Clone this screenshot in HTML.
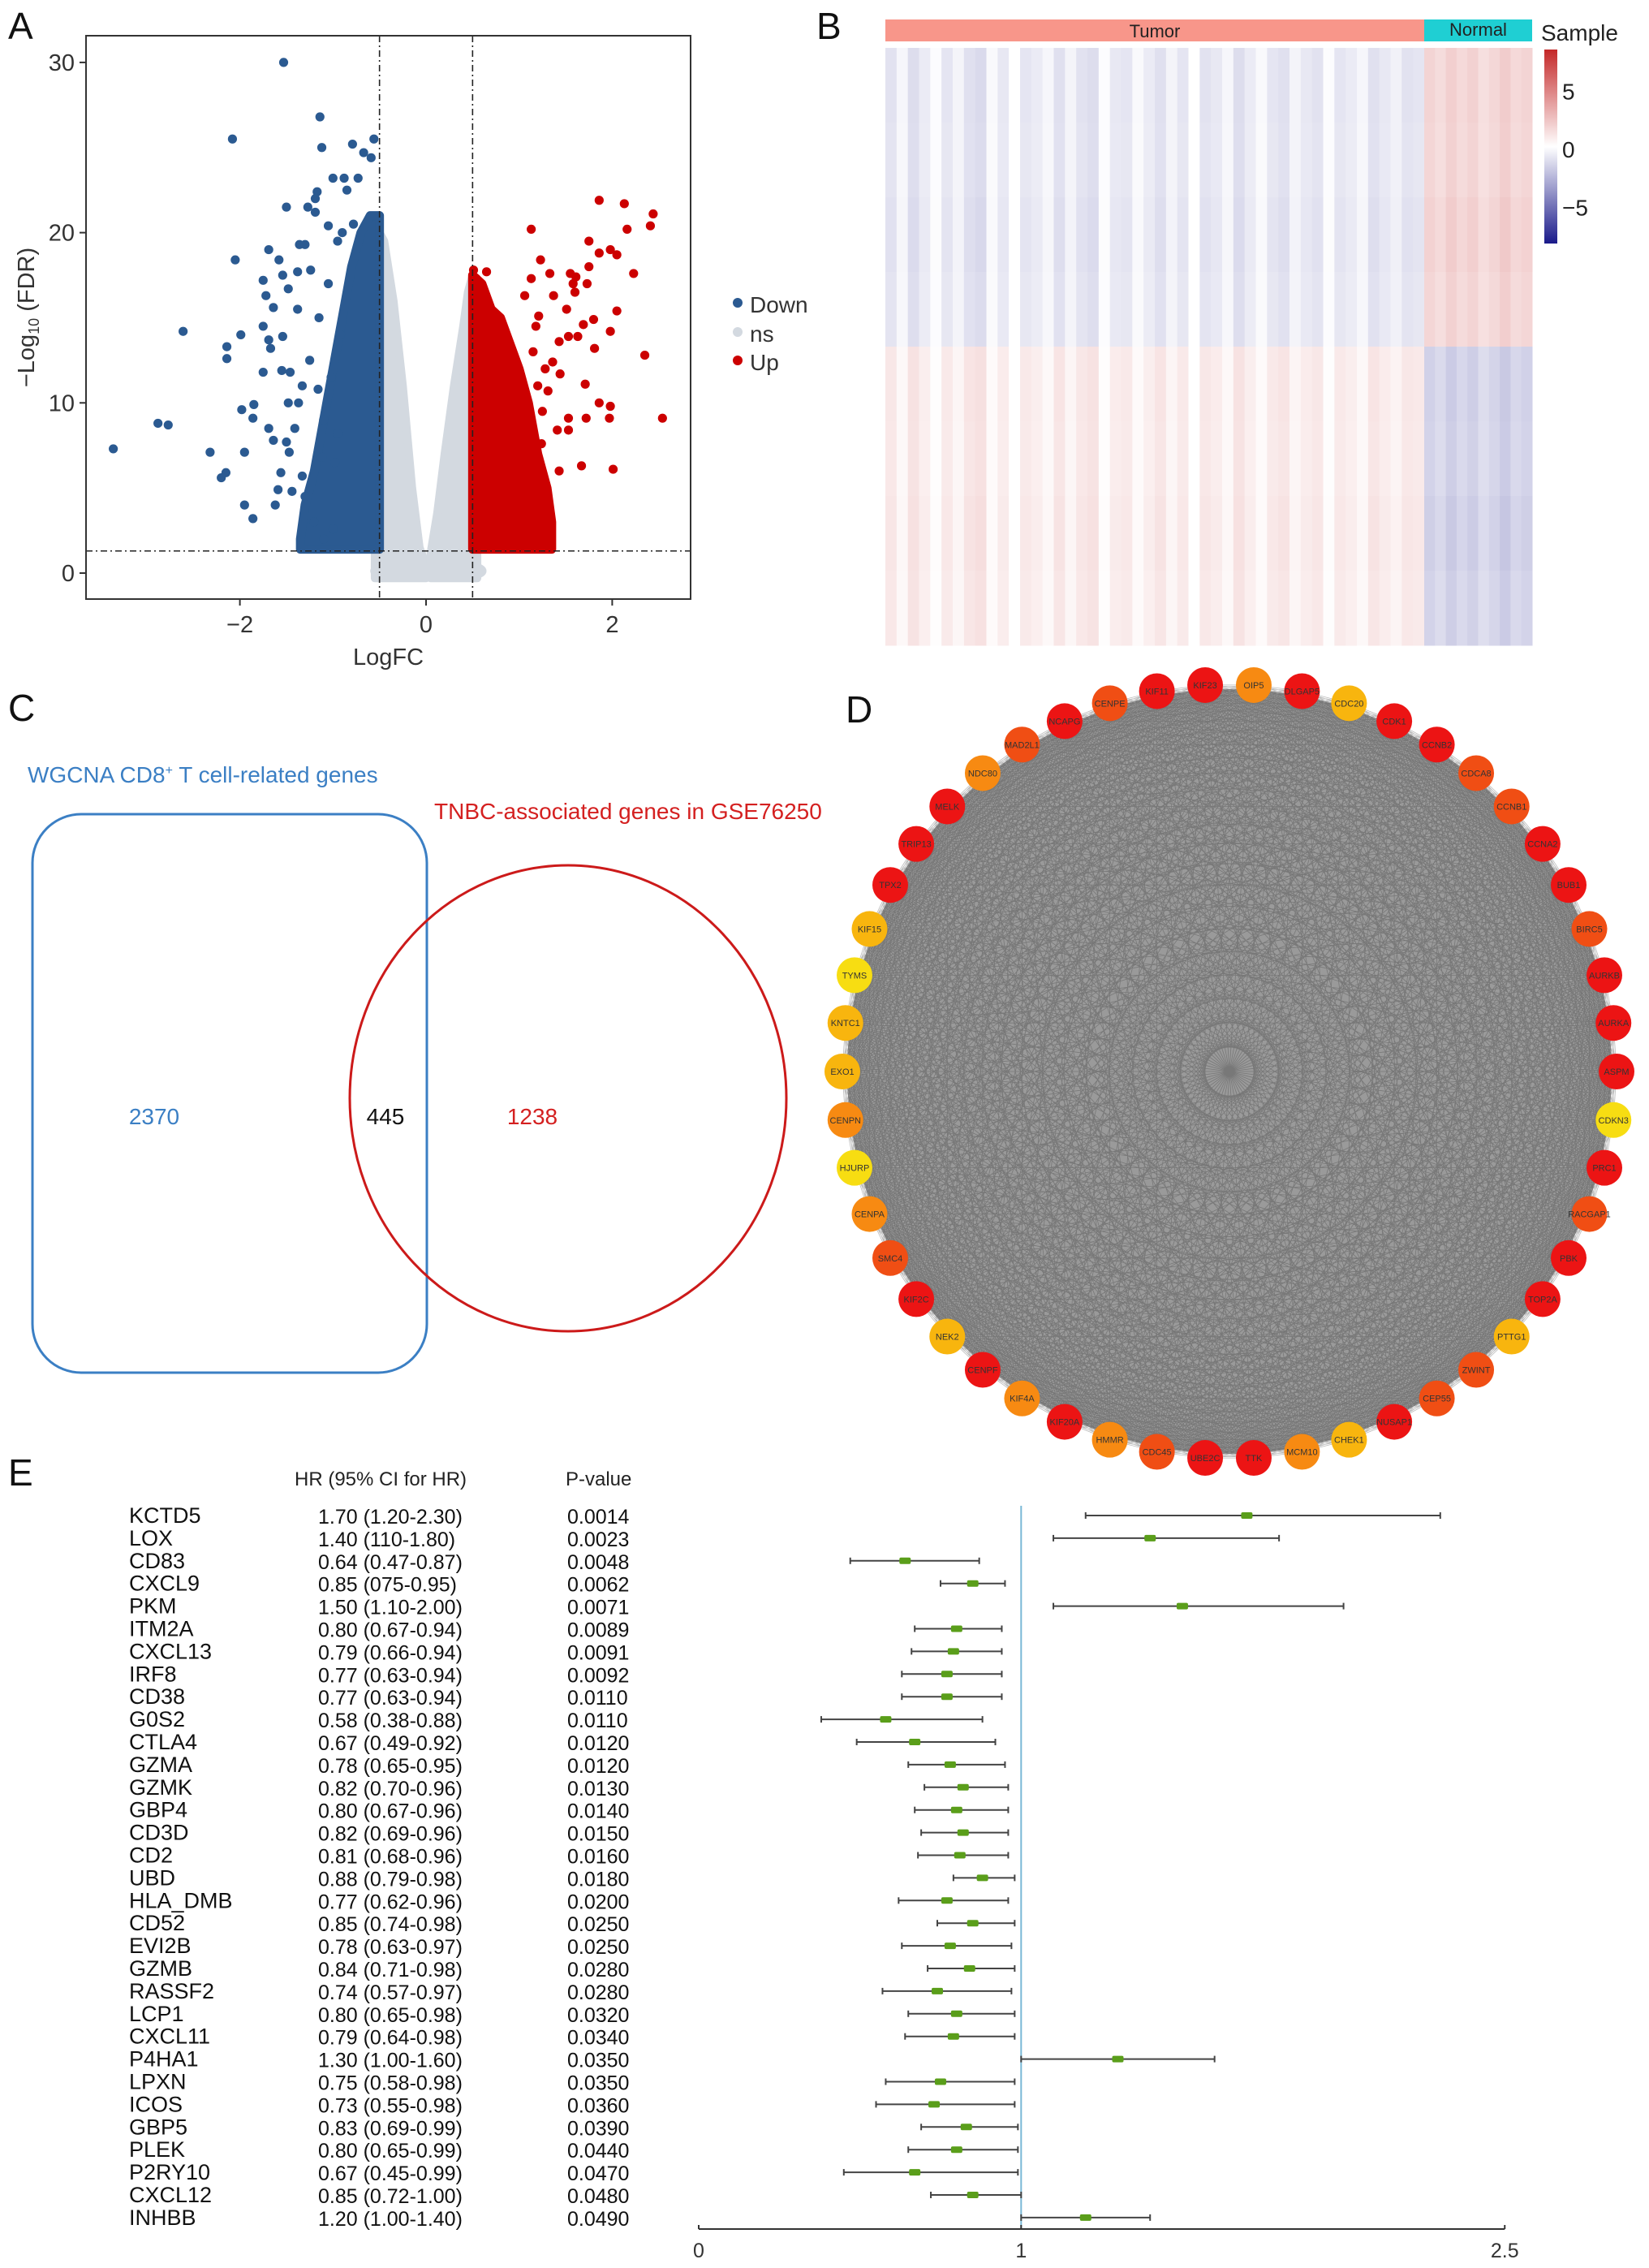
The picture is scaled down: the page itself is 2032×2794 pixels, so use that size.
<!DOCTYPE html>
<html><head><meta charset="utf-8"><style>
html,body{margin:0;padding:0;background:#fff;}
svg{display:block;font-family:"Liberation Sans",Arial,sans-serif;}
</style></head><body>
<svg id="fig" width="2032" height="2794" viewBox="0 0 2032 2794" xmlns="http://www.w3.org/2000/svg">
<g font-size="46" fill="#111">
<text x="10" y="48">A</text>
<text x="1006" y="48">B</text>
<text x="10" y="888">C</text>
<text x="1042" y="890">D</text>
<text x="10" y="1830">E</text>
</g>
<g id="volcano"></g>
<g id="heatmap"></g>
<g id="venn">
<text x="34" y="964" font-size="28" fill="#3b7fc4">WGCNA CD8<tspan font-size="16" dy="-10">+</tspan><tspan dy="10"> T cell-related genes</tspan></text>
<text x="535" y="1009" font-size="28" fill="#d42020">TNBC-associated genes in GSE76250</text>
<rect x="40" y="1003" width="486" height="688" rx="60" ry="60" fill="none" stroke="#3b7fc4" stroke-width="3"/>
<ellipse cx="700" cy="1353" rx="269" ry="287" fill="none" stroke="#cc1a1a" stroke-width="3"/>
<text x="190" y="1385" font-size="28" fill="#3b7fc4" text-anchor="middle">2370</text>
<text x="475" y="1385" font-size="28" fill="#111" text-anchor="middle">445</text>
<text x="656" y="1385" font-size="28" fill="#d42020" text-anchor="middle">1238</text>
</g>
<g id="network"></g>
<g id="forest"></g>
</svg>
<script>
const NS="http://www.w3.org/2000/svg";
function mk(parent,tag,attrs,text){const e=document.createElementNS(NS,tag);for(const k in attrs)e.setAttribute(k,attrs[k]);if(text!==undefined)e.textContent=text;parent.appendChild(e);return e;}

/* ================= VOLCANO DATA ================= */
const volYTicks=[0,10,20,30];
const volXTicks=[-2,0,2];
const downX=[-1.53,-1.14,-2.08,-1.12,-0.79,-0.56,-0.67,-0.59,-1.0,-0.88,-0.73,-1.17,-1.19,-1.5,-1.27,-1.19,-1.05,-1.36,-1.3,-1.69,-2.05,-1.58,-1.38,-1.24,-1.54,-1.75,-1.48,-1.72,-1.38,-1.64,-2.61,-1.99,-1.75,-1.69,-1.54,-2.14,-2.14,-1.67,-1.75,-1.55,-1.46,-1.33,-1.16,-1.48,-1.37,-1.85,-1.98,-1.86,-2.88,-2.77,-1.69,-1.41,-1.64,-1.5,-3.36,-2.32,-1.95,-1.47,-2.15,-2.2,-1.56,-1.33,-1.59,-1.44,-1.95,-1.62,-1.86,-1.2,-1.1,-1.3,-1.0,-0.95,-1.05,-1.15,-0.9,-1.25,-0.85,-1.1,-0.98,-0.92,-0.78,-1.12,-1.02,-0.95];
const downY=[30.0,26.8,25.5,25.0,25.2,25.5,24.7,24.4,23.2,23.2,23.2,22.4,22.0,21.5,21.5,21.2,20.4,19.3,19.3,19.0,18.4,18.4,17.7,17.8,17.5,17.2,16.7,16.3,15.5,15.6,14.2,14.0,14.5,13.7,13.9,13.3,12.6,13.2,11.8,11.9,11.8,11.0,10.8,10.0,10.0,9.9,9.6,9.1,8.8,8.7,8.5,8.5,7.8,7.7,7.3,7.1,7.1,7.1,5.9,5.6,5.9,5.7,4.9,4.8,4.0,4.0,3.2,3.0,2.0,4.5,2.6,19.5,17.0,15.0,20.0,12.5,22.5,9.0,6.5,14.0,20.5,6.8,11.5,8.2];
const upX=[1.86,2.13,2.44,2.41,2.16,1.13,1.75,1.98,1.86,2.05,1.23,1.75,2.23,0.51,0.65,0.54,1.33,1.55,1.61,1.13,1.73,1.58,1.6,1.37,1.06,2.05,1.51,1.21,1.8,1.69,1.98,1.53,1.63,1.43,1.81,2.35,1.36,1.44,1.71,1.31,1.86,1.98,1.53,1.72,1.97,2.54,1.41,1.53,1.24,1.67,1.43,2.01,1.3,1.07,0.88,1.15,1.2,1.25,1.1,1.05,1.28,0.95,1.18];
const upY=[21.9,21.7,21.1,20.4,20.2,20.2,19.5,19.0,18.8,18.7,18.4,18.0,17.6,17.8,17.7,17.3,17.6,17.6,17.4,17.3,17.0,17.0,16.5,16.3,16.3,15.4,15.5,15.1,14.9,14.6,14.2,13.9,13.9,13.6,13.2,12.8,12.4,11.7,11.1,10.7,10.0,9.8,9.1,9.1,9.1,9.1,8.4,8.4,7.6,6.3,6.0,6.1,4.2,3.3,1.9,13.0,11.0,9.5,6.5,4.8,12.0,8.0,14.5];
const downCoreX=[-0.5,-0.6,-0.7,-0.8,-0.9,-1.0,-1.1,-1.2,-1.3,-1.35];
const downCoreTop=[21,21,20,18,15,12,9,6,4,2];
const upCoreX=[0.5,0.6,0.7,0.8,0.9,1.0,1.1,1.2,1.3,1.35];
const upCoreTop=[17.5,17,15.5,15,13.5,12,10,7,5,3];
const nsLeftX=[-0.55,-0.5,-0.45,-0.35,-0.25,-0.15,-0.07,0.0];
const nsLeftTop=[1.0,20,19.5,16,11,5,1.5,0.5];
const nsRightX=[0.05,0.12,0.2,0.3,0.4,0.45,0.5,0.55];
const nsRightTop=[1.2,3.5,7,11,14.5,16.5,17.5,1.0];

const VX0=106,VX1=851,VY0=44,VY1=738;
const vx=v=>525+v*114.7;
const vy=v=>706-v*20.97;
(function(){
 const g=document.getElementById('volcano');
 mk(g,'rect',{x:VX0,y:VY0,width:VX1-VX0,height:VY1-VY0,fill:'#fff',stroke:'none'});
 function area(xs,tops,fill,name){let d='M'+vx(xs[0])+','+vy(-0.3);xs.forEach((x,i)=>{d+=' L'+vx(x)+','+vy(tops[i]);});d+=' L'+vx(xs[xs.length-1])+','+vy(-0.3)+' Z';
  const p=mk(g,'path',{d:d,fill:fill,stroke:fill,'stroke-width':10,'stroke-linejoin':'round'});
  
  }
 area(nsLeftX,nsLeftTop,'#d3d9e0','ns-region-left');
 area(nsRightX,nsRightTop,'#d3d9e0','ns-region-right');
 mk(g,'rect',{x:vx(-0.6),y:vy(0.6),width:vx(0.65)-vx(-0.6),height:vy(-0.35)-vy(0.6),rx:16,fill:'#d3d9e0'});
 function core(xs,tops,fill,name){let d='M'+vx(xs[0])+','+vy(1.4);xs.forEach((x,i)=>{d+=' L'+vx(x)+','+vy(tops[i]);});d+=' L'+vx(xs[xs.length-1])+','+vy(1.4)+' Z';
  const p=mk(g,'path',{d:d,fill:fill,stroke:fill,'stroke-width':11,'stroke-linejoin':'round'});
  
  }
 core(downCoreX,downCoreTop,'#2b5a91','down-core');
 core(upCoreX,upCoreTop,'#cc0000','up-core');
 downX.forEach((x,i)=>{const c=mk(g,'circle',{cx:vx(x),cy:vy(downY[i]),r:5.6,fill:'#2b5a91'});
  
  });
 upX.forEach((x,i)=>{const c=mk(g,'circle',{cx:vx(x),cy:vy(upY[i]),r:5.6,fill:'#cc0000'});
  
  });
 [-0.5,0.5].forEach(t=>{const l=mk(g,'line',{x1:vx(t),x2:vx(t),y1:VY0,y2:VY1,stroke:'#222','stroke-width':1.6,'stroke-dasharray':'8,4,2,4'});
  
  });
 const hl=mk(g,'line',{x1:VX0,x2:VX1,y1:vy(1.3),y2:vy(1.3),stroke:'#222','stroke-width':1.6,'stroke-dasharray':'8,4,2,4'});
 
 
 mk(g,'rect',{x:VX0,y:VY0,width:VX1-VX0,height:VY1-VY0,fill:'none',stroke:'#333','stroke-width':2});
 volYTicks.forEach(t=>{mk(g,'line',{x1:VX0-8,x2:VX0,y1:vy(t),y2:vy(t),stroke:'#333','stroke-width':2});
  const tx=mk(g,'text',{x:VX0-14,y:vy(t)+10,'font-size':29,fill:'#333','text-anchor':'end'},String(t));
  
  });
 volXTicks.forEach(t=>{mk(g,'line',{x1:vx(t),x2:vx(t),y1:VY1,y2:VY1+8,stroke:'#333','stroke-width':2});
  const tx=mk(g,'text',{x:vx(t),y:VY1+41,'font-size':29,fill:'#333','text-anchor':'middle'},(t<0?'\u2212':'')+Math.abs(t));
  
  });
 const xt=mk(g,'text',{x:(VX0+VX1)/2,y:VY1+81,'font-size':29,fill:'#333','text-anchor':'middle'},'LogFC');
 
 
 const yt=mk(g,'text',{transform:'translate(42,'+((VY0+VY1)/2)+') rotate(-90)','font-size':29,fill:'#333','text-anchor':'middle'});
 yt.innerHTML='\u2212Log<tspan font-size="18" dy="6">10</tspan><tspan dy="-6"> (FDR)</tspan>';
 
 
 const leg=[['Down','#2b5a91',375],['ns','#d3d9e0',411],['Up','#cc0000',446]];
 leg.forEach(l=>{const c=mk(g,'circle',{cx:909,cy:l[2]-2,r:6,fill:l[1]});
  
  
  const t=mk(g,'text',{x:924,y:l[2]+10,'font-size':28,fill:'#333'},l[0]);
  
  });
})();

/* ================= HEATMAP DATA ================= */
const tumorColShade=[0.4,-0.3,0.6,0.1,-0.5,0.3,-0.2,0.5,0.7,-0.4,0.2,-0.6,0.3,0.1,-0.3,0.5,-0.2,0.4,0.6,-0.5,0.2,0.3,-0.4,0.1,0.5,-0.2,0.3,-0.6,0.4,0.2,-0.3,0.6,0.1,-0.4,0.3,0.5,-0.2,0.2,0.4,-0.5,0.3,0.1,-0.3,0.5,0.2,-0.1,0.4,0.3];
const normalColShade=[1.6,1.3,1.8,1.4,1.7,1.2,1.5,1.9,1.4,1.6];
const rowBlockSign=[-1,-0.95,-1.05,-0.95,1,0.95,1.05,0.95];
const sampleGroups=['Tumor','Normal'];
const cbTicks=[5,0,-5];
(function(){
 const g=document.getElementById('heatmap');
 const HX0=1091,HSplit=1755,HX1=1888,HY0=59,HY1=795;
 function col(v){v=Math.max(-8,Math.min(8,v));
  if(v>=0){const t=v/8;return 'rgb('+Math.round(255-t*(255-196))+','+Math.round(255-t*(255-40))+','+Math.round(255-t*(255-40))+')';}
  const t=-v/8;return 'rgb('+Math.round(255-t*(255-26))+','+Math.round(255-t*(255-26))+','+Math.round(255-t*(255-138))+')';}
 const rh=(HY1-HY0)/rowBlockSign.length;
 const tw=(HSplit-HX0)/tumorColShade.length, nw=(HX1-HSplit)/normalColShade.length;
 rowBlockSign.forEach((s,r)=>{
  tumorColShade.forEach((c,i)=>{const v=s*(0.6+c)*(s<0?1:0.9);
   const rc=mk(g,'rect',{x:HX0+i*tw,y:HY0+r*rh,width:tw+0.5,height:rh+0.5,fill:col(v)});
   
   });
  normalColShade.forEach((c,i)=>{const v=-s*c;
   const rc=mk(g,'rect',{x:HSplit+i*nw,y:HY0+r*rh,width:nw+0.5,height:rh+0.5,fill:col(v)});
   
   });
 });
 const a1=mk(g,'rect',{x:HX0,y:24,width:HSplit-HX0,height:27,fill:'#f8968a'});
 
 
 const a2=mk(g,'rect',{x:HSplit,y:24,width:HX1-HSplit,height:27,fill:'#1fcfd3'});
 
 
 const t1=mk(g,'text',{x:(HX0+HSplit)/2,y:46,'font-size':22,fill:'#222','text-anchor':'middle'},sampleGroups[0]);
 
 
 const t2=mk(g,'text',{x:(HSplit+HX1)/2,y:44,'font-size':22,fill:'#222','text-anchor':'middle'},sampleGroups[1]);
 
 
 const st=mk(g,'text',{x:1899,y:50,'font-size':28,fill:'#222'},'Sample');
 
 
 const defs=mk(g,'defs',{});
 const lg=mk(defs,'linearGradient',{id:'cbg',x1:0,y1:0,x2:0,y2:1});
 mk(lg,'stop',{offset:'0','stop-color':col(8)});
 mk(lg,'stop',{offset:'0.5','stop-color':'#ffffff'});
 mk(lg,'stop',{offset:'1','stop-color':col(-8)});
 const cb=mk(g,'rect',{x:1903,y:61,width:16,height:239,fill:'url(#cbg)'});
 
 
 const cy=v=>184-v*14.3;
 cbTicks.forEach(t=>{const tx=mk(g,'text',{x:1925,y:cy(t)+10,'font-size':28,fill:'#222'},t<0?'\u2212'+Math.abs(t):String(t));
  
  });
})();

/* ================= NETWORK DATA ================= */
const nodeNames=['KIF23','OIP5','DLGAP5','CDC20','CDK1','CCNB2','CDCA8','CCNB1','CCNA2','BUB1','BIRC5','AURKB','AURKA','ASPM','CDKN3','PRC1','RACGAP1','PBK','TOP2A','PTTG1','ZWINT','CEP55','NUSAP1','CHEK1','MCM10','TTK','UBE2C','CDC45','HMMR','KIF20A','KIF4A','CENPF','NEK2','KIF2C','SMC4','CENPA','HJURP','CENPN','EXO1','KNTC1','TYMS','KIF15','TPX2','TRIP13','MELK','NDC80','MAD2L1','NCAPG','CENPE','KIF11'];
const nodeDegree=[5,3,5,2,5,5,4,4,5,5,4,5,5,5,1,5,4,5,5,2,4,4,5,2,3,5,5,4,3,5,3,5,2,5,4,3,1,3,2,2,1,2,5,5,5,3,4,5,4,5];
(function(){
 const g=document.getElementById('network');
 const cx=1515,cy=1320,R=477,n=nodeNames.length;
 const pos=nodeNames.map((_,i)=>{const a=(-3.6+i*360/n)*Math.PI/180;return [cx+R*Math.sin(a),cy-R*Math.cos(a)];});
 const disk=mk(g,'circle',{cx:cx,cy:cy,r:R-6,fill:'#9a9a9a'});
 
 
 let d='';
 for(let i=0;i<n;i++)for(let j=i+1;j<n;j++){d+='M'+pos[i][0].toFixed(1)+','+pos[i][1].toFixed(1)+'L'+pos[j][0].toFixed(1)+','+pos[j][1].toFixed(1);}
 const e=mk(g,'path',{d:d,stroke:'#3a3a3a','stroke-width':0.8,'stroke-opacity':0.35,fill:'none'});
 
 
 const cols=['#f7dd12','#f8b50e','#f78a12','#f04e14','#ec1414'];
 nodeNames.forEach((nm,i)=>{
  const c=mk(g,'circle',{cx:pos[i][0],cy:pos[i][1],r:22,fill:cols[nodeDegree[i]-1]});
  
  
  const t=mk(g,'text',{x:pos[i][0],y:pos[i][1]+4,'font-size':11,fill:'#333','text-anchor':'middle'},nm);
  
  
 });
})();

/* ================= FOREST DATA ================= */
const genes=['KCTD5','LOX','CD83','CXCL9','PKM','ITM2A','CXCL13','IRF8','CD38','G0S2','CTLA4','GZMA','GZMK','GBP4','CD3D','CD2','UBD','HLA_DMB','CD52','EVI2B','GZMB','RASSF2','LCP1','CXCL11','P4HA1','LPXN','ICOS','GBP5','PLEK','P2RY10','CXCL12','INHBB'];
const hrLabels=['1.70 (1.20-2.30)','1.40 (110-1.80)','0.64 (0.47-0.87)','0.85 (075-0.95)','1.50 (1.10-2.00)','0.80 (0.67-0.94)','0.79 (0.66-0.94)','0.77 (0.63-0.94)','0.77 (0.63-0.94)','0.58 (0.38-0.88)','0.67 (0.49-0.92)','0.78 (0.65-0.95)','0.82 (0.70-0.96)','0.80 (0.67-0.96)','0.82 (0.69-0.96)','0.81 (0.68-0.96)','0.88 (0.79-0.98)','0.77 (0.62-0.96)','0.85 (0.74-0.98)','0.78 (0.63-0.97)','0.84 (0.71-0.98)','0.74 (0.57-0.97)','0.80 (0.65-0.98)','0.79 (0.64-0.98)','1.30 (1.00-1.60)','0.75 (0.58-0.98)','0.73 (0.55-0.98)','0.83 (0.69-0.99)','0.80 (0.65-0.99)','0.67 (0.45-0.99)','0.85 (0.72-1.00)','1.20 (1.00-1.40)'];
const pValues=['0.0014','0.0023','0.0048','0.0062','0.0071','0.0089','0.0091','0.0092','0.0110','0.0110','0.0120','0.0120','0.0130','0.0140','0.0150','0.0160','0.0180','0.0200','0.0250','0.0250','0.0280','0.0280','0.0320','0.0340','0.0350','0.0350','0.0360','0.0390','0.0440','0.0470','0.0480','0.0490'];
const hr=[1.70,1.40,0.64,0.85,1.50,0.80,0.79,0.77,0.77,0.58,0.67,0.78,0.82,0.80,0.82,0.81,0.88,0.77,0.85,0.78,0.84,0.74,0.80,0.79,1.30,0.75,0.73,0.83,0.80,0.67,0.85,1.20];
const ciLo=[1.20,1.10,0.47,0.75,1.10,0.67,0.66,0.63,0.63,0.38,0.49,0.65,0.70,0.67,0.69,0.68,0.79,0.62,0.74,0.63,0.71,0.57,0.65,0.64,1.00,0.58,0.55,0.69,0.65,0.45,0.72,1.00];
const ciHi=[2.30,1.80,0.87,0.95,2.00,0.94,0.94,0.94,0.94,0.88,0.92,0.95,0.96,0.96,0.96,0.96,0.98,0.96,0.98,0.97,0.98,0.97,0.98,0.98,1.60,0.98,0.98,0.99,0.99,0.99,1.00,1.40];
const forestTicks=[0,1,2.5];
(function(){
 const g=document.getElementById('forest');
 const fx=v=>861+v*397.3;
 const ROW0=1867,ROWH=27.9;
 const ry=i=>ROW0+i*ROWH;
 const h1=mk(g,'text',{x:363,y:1830,'font-size':24,fill:'#222'},'HR (95% CI for HR)');
 
 
 const h2=mk(g,'text',{x:697,y:1830,'font-size':24,fill:'#222'},'P-value');
 
 
 genes.forEach((gn,i)=>{
  const t=mk(g,'text',{x:159,y:ry(i)+9,'font-size':27,fill:'#111'},gn);
  
  
  const h=mk(g,'text',{x:392,y:ry(i)+10,'font-size':25,fill:'#111'},hrLabels[i]);
  
  
  const p=mk(g,'text',{x:699,y:ry(i)+10,'font-size':25,fill:'#111'},pValues[i]);
  
  
 });
 const ref=mk(g,'line',{x1:fx(1),x2:fx(1),y1:1855,y2:2746,stroke:'#7ab8d6','stroke-width':2});
 
 
 hr.forEach((v,i)=>{
  const y=ry(i);
  const l=mk(g,'line',{x1:fx(ciLo[i]),x2:fx(ciHi[i]),y1:y,y2:y,stroke:'#444','stroke-width':2});
  
  
  mk(g,'line',{x1:fx(ciLo[i]),x2:fx(ciLo[i]),y1:y-4,y2:y+4,stroke:'#444','stroke-width':2});
  mk(g,'line',{x1:fx(ciHi[i]),x2:fx(ciHi[i]),y1:y-4,y2:y+4,stroke:'#444','stroke-width':2});
  const b=mk(g,'rect',{x:fx(v)-7,y:y-4,width:14,height:8,rx:2,fill:'#5a9e1a'});
  
  
 });
 const ax=mk(g,'line',{x1:fx(0),x2:fx(2.5),y1:2746,y2:2746,stroke:'#333','stroke-width':2});
 
 
 forestTicks.forEach(t=>{mk(g,'line',{x1:fx(t),x2:fx(t),y1:2741,y2:2746,stroke:'#333','stroke-width':2});
  const tx=mk(g,'text',{x:fx(t),y:2781,'font-size':25,fill:'#333','text-anchor':'middle'},String(t));
  
  });
})();
</script>
</body></html>
